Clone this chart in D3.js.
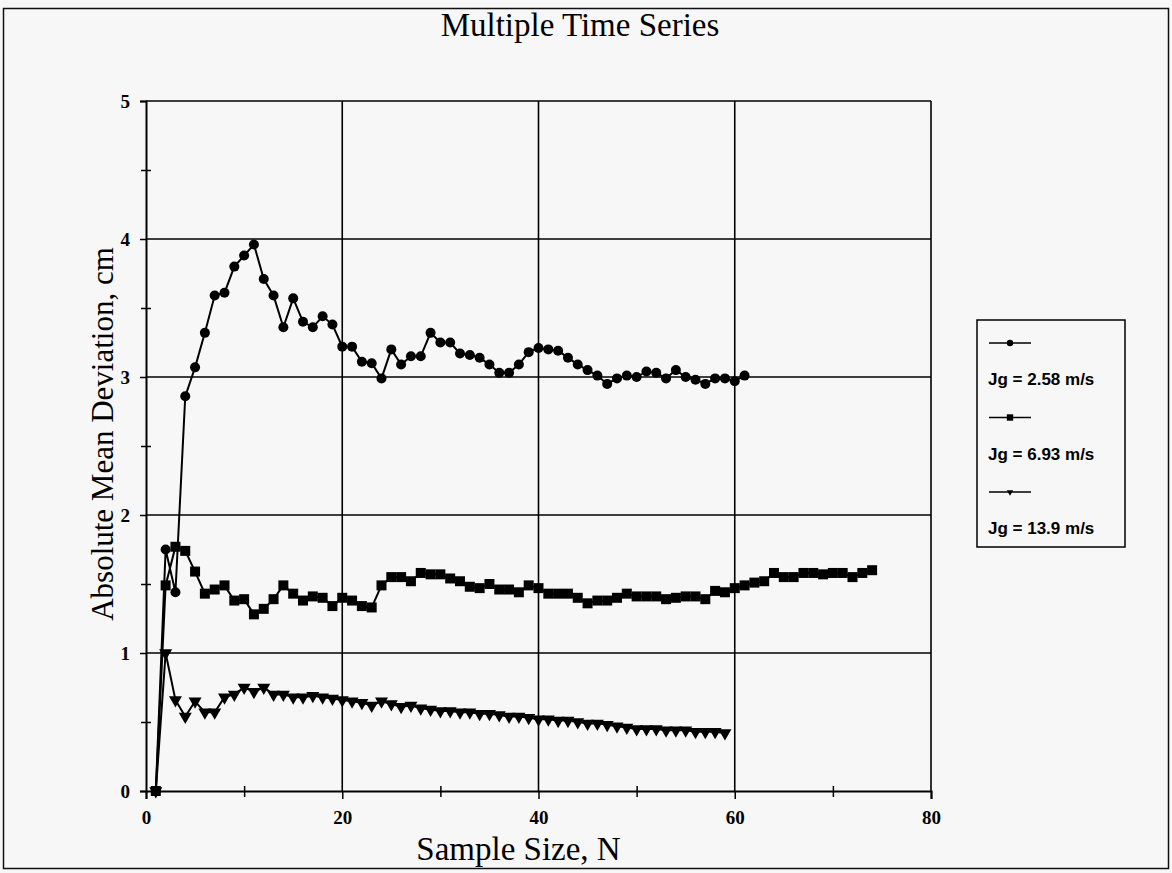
<!DOCTYPE html>
<meta charset="utf-8">
<script src="https://d3js.org/d3.v7.min.js"></script>
<style>
  body { margin: 0; background: #f7f7f7; }
  text { fill: #000; }
</style>
<div id="chart"></div>
<script>

// ---- data ----
var seriesNames = ["Jg = 2.58 m/s", "Jg = 6.93 m/s", "Jg = 13.9 m/s"];

var n258 = d3.range(1, 62);
var amd258 = [0, 1.75, 1.44, 2.86, 3.07, 3.32, 3.59, 3.61, 3.80, 3.88,
  3.96, 3.71, 3.59, 3.36, 3.57, 3.40, 3.36, 3.44, 3.38, 3.22,
  3.22, 3.11, 3.10, 2.99, 3.20, 3.09, 3.15, 3.15, 3.32, 3.25,
  3.25, 3.17, 3.16, 3.14, 3.09, 3.03, 3.03, 3.09, 3.18, 3.21,
  3.20, 3.19, 3.14, 3.09, 3.05, 3.01, 2.95, 2.99, 3.01, 3.00,
  3.04, 3.03, 2.99, 3.05, 3.00, 2.98, 2.95, 2.99, 2.99, 2.97,
  3.01];

var n693 = d3.range(1, 75);
var amd693 = [0, 1.49, 1.77, 1.74, 1.59, 1.43, 1.46, 1.49, 1.38, 1.39,
  1.28, 1.32, 1.39, 1.49, 1.43, 1.38, 1.41, 1.40, 1.34, 1.40,
  1.38, 1.34, 1.33, 1.49, 1.55, 1.55, 1.52, 1.58, 1.57, 1.57,
  1.54, 1.52, 1.48, 1.47, 1.50, 1.46, 1.46, 1.44, 1.49, 1.47,
  1.43, 1.43, 1.43, 1.40, 1.36, 1.38, 1.38, 1.40, 1.43, 1.41,
  1.41, 1.41, 1.39, 1.40, 1.41, 1.41, 1.39, 1.45, 1.44, 1.47,
  1.49, 1.51, 1.52, 1.58, 1.55, 1.55, 1.58, 1.58, 1.57, 1.58,
  1.58, 1.55, 1.58, 1.60];

var n139 = d3.range(1, 60);
var amd139 = [0, 1.00, 0.66, 0.54, 0.65, 0.57, 0.57, 0.68, 0.70, 0.75,
  0.72, 0.75, 0.70, 0.70, 0.68, 0.68, 0.69, 0.68, 0.67, 0.66,
  0.65, 0.64, 0.62, 0.65, 0.63, 0.61, 0.62, 0.60, 0.59, 0.58,
  0.58, 0.57, 0.57, 0.56, 0.56, 0.55, 0.54, 0.54, 0.53, 0.52,
  0.52, 0.51, 0.51, 0.50, 0.49, 0.49, 0.48, 0.47, 0.46, 0.45,
  0.45, 0.45, 0.44, 0.44, 0.44, 0.43, 0.43, 0.43, 0.42];

var xTicks = [0, 20, 40, 60, 80];
var yTicks = [0, 1, 2, 3, 4, 5];

var W = 1172, H = 873;
var margin = {top: 101, right: 241, bottom: 82, left: 146},
    width = W - margin.left - margin.right,
    height = H - margin.top - margin.bottom;

var serif = "'Liberation Serif', 'Times New Roman', serif";

var svg = d3.select("#chart").append("svg")
    .attr("width", W)
    .attr("height", H)
    .style("display", "block");

svg.append("rect")
    .attr("width", W).attr("height", H)
    .attr("fill", "#f7f7f7");

// outer frame
svg.append("rect")
    .attr("x", 3.5).attr("y", 8.5)
    .attr("width", W - 7).attr("height", H - 13)
    .attr("fill", "none")
    .attr("stroke", "#111")
    .attr("stroke-width", 1.5);

svg.append("text")
    .attr("x", 580).attr("y", 36)
    .attr("text-anchor", "middle")
    .style("font-family", serif)
    .style("font-size", "33px")
    .text("Multiple Time Series");

var g = svg.append("g")
    .attr("transform", "translate(" + margin.left + "," + margin.top + ")");

var x = d3.scaleLinear().domain([0, 80]).range([0, width]);
var y = d3.scaleLinear().domain([0, 5]).range([height, 0]);

// grid lines
g.append("g")
  .selectAll("line")
  .data(xTicks.slice(1))
  .enter().append("line")
    .attr("x1", function(d) { return x(d); })
    .attr("x2", function(d) { return x(d); })
    .attr("y1", 0).attr("y2", height)
    .attr("stroke", "#000").attr("stroke-width", 1.6);

g.append("g")
  .selectAll("line")
  .data(yTicks.slice(1))
  .enter().append("line")
    .attr("x1", 0).attr("x2", width)
    .attr("y1", function(d) { return y(d); })
    .attr("y2", function(d) { return y(d); })
    .attr("stroke", "#000").attr("stroke-width", 1.6);

// axes: major ticks crossing the axis, minor ticks halfway
var xAxis = g.append("g")
    .attr("transform", "translate(0," + height + ")")
    .call(d3.axisBottom(x).tickValues(xTicks).tickSize(8).tickPadding(12).tickFormat(d3.format("d")));
g.append("g")
    .attr("transform", "translate(0," + (height - 5) + ")")
    .call(d3.axisBottom(x).tickValues([10, 30, 50, 70]).tickSize(11).tickFormat(""))
    .select(".domain").remove();

var yAxis = g.append("g")
    .call(d3.axisLeft(y).tickValues(yTicks).tickSize(6).tickPadding(10).tickFormat(d3.format("d")));
g.append("g")
    .attr("transform", "translate(5,0)")
    .call(d3.axisLeft(y).tickValues([0.5, 1.5, 2.5, 3.5, 4.5]).tickSize(10).tickFormat(""))
    .select(".domain").remove();

g.selectAll(".domain").attr("stroke-width", 2);
g.selectAll(".tick line").attr("stroke-width", 1.5);
[xAxis, yAxis].forEach(function(a) {
  a.selectAll("text")
    .style("font-family", serif)
    .style("font-size", "19px")
    .style("font-weight", "bold");
});

svg.append("text")
    .attr("x", margin.left + width / 2 - 20).attr("y", 860)
    .attr("text-anchor", "middle")
    .style("font-family", serif)
    .style("font-size", "33px")
    .text("Sample Size, N");

svg.append("text")
    .attr("transform", "translate(113," + (margin.top + height / 2 - 12) + ") rotate(-90)")
    .attr("text-anchor", "middle")
    .style("font-family", serif)
    .style("font-size", "31px")
    .text("Absolute Mean Deviation, cm");

// series
var series = [
  {name: seriesNames[0], n: n258, v: amd258, shape: "circle"},
  {name: seriesNames[1], n: n693, v: amd693, shape: "square"},
  {name: seriesNames[2], n: n139, v: amd139, shape: "tri"}
];

function marker(shape, r) {
  if (shape === "circle") return d3.symbol().type(d3.symbolCircle).size(Math.PI * r * r)();
  if (shape === "square") return d3.symbol().type(d3.symbolSquare).size(4 * r * r)();
  // downward triangle, half-width r
  var h = r * Math.sqrt(3);
  return "M" + (-r) + "," + (-h / 3) + "L" + r + "," + (-h / 3) + "L0," + (2 * h / 3) + "Z";
}

var line = d3.line()
  .x(function(d) { return x(d[0]); })
  .y(function(d) { return y(d[1]); });

series.forEach(function(s) {
  var pts = s.n.map(function(n, i) { return [n, s.v[i]]; });
  g.append("path")
    .datum(pts)
    .attr("fill", "none")
    .attr("stroke", "#000")
    .attr("stroke-width", 2)
    .attr("d", line);
  g.append("g").selectAll("path")
    .data(pts)
    .enter().append("path")
      .attr("transform", function(d) { return "translate(" + x(d[0]) + "," + y(d[1]) + ")"; })
      .attr("d", marker(s.shape, s.shape === "tri" ? 6.5 : 5))
      .attr("fill", "#000");
});

// legend: each entry is a marker line with its label wrapped below
var lg = svg.append("g").attr("transform", "translate(977,320)");
lg.append("rect")
    .attr("width", 148).attr("height", 227)
    .attr("fill", "#f7f7f7")
    .attr("stroke", "#000").attr("stroke-width", 1.5);

series.forEach(function(s, i) {
  var yy = 23 + i * 74.5;
  lg.append("line")
    .attr("x1", 12).attr("x2", 54)
    .attr("y1", yy).attr("y2", yy)
    .attr("stroke", "#000").attr("stroke-width", 1.5);
  lg.append("path")
    .attr("transform", "translate(33," + yy + ")")
    .attr("d", marker(s.shape, 3.2))
    .attr("fill", "#000");
  lg.append("text")
    .attr("x", 11).attr("y", yy + 42)
    .style("font-family", "'Liberation Sans', Arial, sans-serif")
    .style("font-size", "17px")
    .style("font-weight", "bold")
    .text(s.name);
});

</script>
